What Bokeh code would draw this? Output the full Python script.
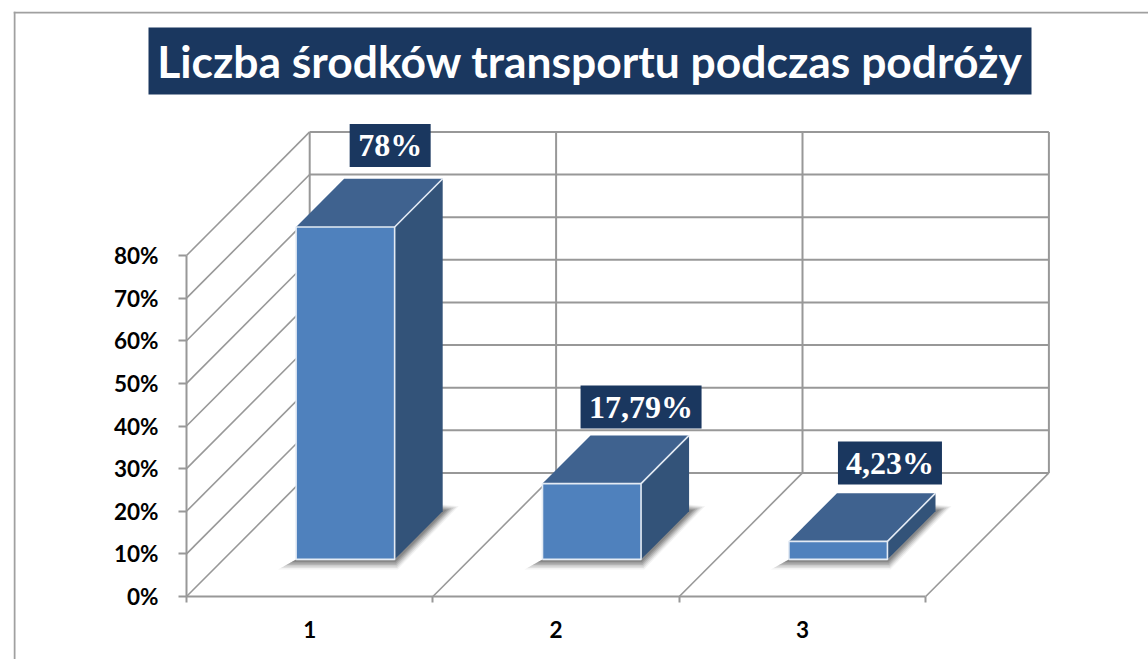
from bokeh.plotting import figure
from bokeh.models import FixedTicker, Span, Range1d
from bokeh.core.properties import value
from bokeh.embed import file_html
from bokeh.resources import INLINE

# ---- data
title_text = "Liczba środków transportu podczas podróży"
categories = [1, 2, 3]
shares = [78, 17.79, 4.23]
share_labels = ["78%", "17,79%", "4,23%"]
y_ticks = [0, 10, 20, 30, 40, 50, 60, 70, 80]
y_tick_labels = ["0%", "10%", "20%", "30%", "40%", "50%", "60%", "70%", "80%"]

# ---- style / geometry
NAVY, FRONT, TOP, SIDE = "#1a375f", "#4f81bd", "#3f628f", "#335379"
GRID, EDGE = "#989898", "#e4ebf4"
W, H, ML, MT = 1148, 659, 13, 11
PX_X, PX_Y = 246.4, 4.2625          # px per category, px per percent
ORG_X, ORG_Y = 186, 596             # page px of (0.5, 0%)
DEPTH_X, DEPTH_Y = 0.5, 29.0        # full-depth shift, in data units
BAR_HALF, BAR_D0, BAR_D1, BAR_SHIFT = 0.2, 0.30, 0.69, -1.3 / PX_X

def xd(px): return 0.5 + (px - ORG_X) / PX_X
def yd(py): return (ORG_Y - py) / PX_Y
def proj(x, v, d): return x + d * DEPTH_X, v + d * DEPTH_Y

p = figure(width=W, height=H, output_backend="svg", toolbar_location=None,
           x_range=Range1d(xd(ML), xd(W)), y_range=Range1d(yd(H), yd(MT)),
           min_border_left=ML, min_border_top=MT, min_border_right=0, min_border_bottom=0,
           outline_line_color=None, background_fill_color="white")
p.grid.visible = False

# chart-area border (left and top edges are the only ones in view)
p.add_layout(Span(location=xd(ML + 1), dimension="height", line_color="#a0a0a0", line_width=2))
p.add_layout(Span(location=yd(MT + 1), dimension="width", line_color="#a0a0a0", line_width=2))

# ---- walls
bounds = [0.5, 1.5, 2.5, 3.5]
xs, ys, dxs, dys = [], [], [], []
for v in y_ticks:
    a, b = proj(0.5, v, 1), proj(3.5, v, 1)
    xs.append([a[0], b[0]]); ys.append([a[1], b[1]])
    a, b = proj(0.5, v, 0), proj(0.5, v, 1)
    dxs.append([a[0], b[0]]); dys.append([a[1], b[1]])
for x in bounds:
    a, b = proj(x, 0, 1), proj(x, 80, 1)
    xs.append([a[0], b[0]]); ys.append([a[1], b[1]])
for x in bounds[1:]:
    a, b = proj(x, 0, 0), proj(x, 0, 1)
    dxs.append([a[0], b[0]]); dys.append([a[1], b[1]])
p.multi_line(xs, ys, line_color=GRID, line_width=2)
p.multi_line(dxs, dys, line_color=GRID, line_width=1.6)

# ---- bars
for c, v in zip(categories, shares):
    x0, x1 = c - BAR_HALF + BAR_SHIFT, c + BAR_HALF + BAR_SHIFT
    fl, fr = proj(x0, 0, BAR_D0), proj(x1, 0, BAR_D0)
    tl, tr = proj(x0, v, BAR_D0), proj(x1, v, BAR_D0)
    bl, br = proj(x0, v, BAR_D1), proj(x1, v, BAR_D1)
    br0 = proj(x1, 0, BAR_D1)
    # soft shadow on the floor
    for g, a in zip([10, 8.5, 7, 5.5, 4, 2.5], [0.06, 0.10, 0.13, 0.16, 0.18, 0.20]):
        gx, gv = g / PX_X, g / PX_Y
        sx = [fl[0] - 1.8 * gx, fr[0] + 0.3 * gx, br0[0] + 1.6 * gx, br0[0] - 0.3 * gx, fr[0], fl[0]]
        sy = [fl[1] - gv, fr[1] - gv, br0[1] + 0.5 * gv, br0[1] + 0.7 * gv, fr[1], fl[1]]
        p.patch(sx, sy, fill_color="#3a3a3a", fill_alpha=a, line_color=None)
    p.patch(*zip(fr, br0, br, tr), fill_color=SIDE, line_color=None)
    p.patch(*zip(tl, tr, br, bl), fill_color=TOP, line_color=None)
    p.patch(*zip(fl, fr, tr, tl), fill_color=FRONT, line_color=None)
    p.multi_line([[fl[0], fr[0], tr[0], tl[0], fl[0]], [tr[0], br[0]]],
                 [[fl[1], fr[1], tr[1], tl[1], fl[1]], [tr[1], br[1]]],
                 line_color=EDGE, line_width=1.6)

# ---- value labels
LAB_DX, LAB_DY, LAB_W, LAB_H = [43.5, 48, 50.5], [81.5, 76.5, 78.5], [81, 121, 104], 43
lx = [proj(c, v, BAR_D0)[0] + o / PX_X for c, v, o in zip(categories, shares, LAB_DX)]
ly = [proj(c, v, BAR_D0)[1] + o / PX_Y for c, v, o in zip(categories, shares, LAB_DY)]
p.rect(lx, ly, width=LAB_W, height=LAB_H, width_units="screen", height_units="screen",
       fill_color=NAVY, line_color=None)
p.text(lx, ly, text=share_labels, text_font=value("Liberation Serif"), text_font_style="bold",
       text_font_size="32px", text_color="white", text_align="center", text_baseline="middle")

# ---- title
p.rect([xd(589.5)], [yd(60.5)], width=883, height=67, width_units="screen", height_units="screen",
       fill_color=NAVY, line_color=None)
p.text([xd(589.5)], [yd(59.5)], text=[title_text], text_font=value("Lato"), text_font_style="bold",
       text_font_size="44.4px", text_color="white", text_align="center", text_baseline="middle")

# ---- axes
ya = p.yaxis[0]
ya.fixed_location = 0.5
ya.bounds = (0, 80)
ya.ticker = FixedTicker(ticks=y_ticks)
ya.major_label_overrides = dict(zip(y_ticks, y_tick_labels))
ya.minor_tick_line_color = None
ya.major_tick_in, ya.major_tick_out = 0, 8
ya.major_label_standoff = 20
xa = p.xaxis[0]
xa.fixed_location = 0
xa.bounds = (0.5, 3.5)
xa.ticker = FixedTicker(ticks=categories, minor_ticks=bounds)
xa.major_label_overrides = {c: str(c) for c in categories}
xa.major_tick_line_color = None
xa.major_tick_in, xa.major_tick_out = 0, 0
xa.minor_tick_in, xa.minor_tick_out = 0, 6
xa.major_label_standoff = 18
for ax in (xa, ya):
    ax.axis_line_color = GRID
    ax.axis_line_width = 2
    ax.major_label_text_font = "Lato"
    ax.major_label_text_font_style = "bold"
    ax.major_label_text_font_size = "22.5px"
    ax.major_label_text_color = "black"
ya.major_tick_line_color = GRID
ya.major_tick_line_width = 2
xa.minor_tick_line_color = GRID
xa.minor_tick_line_width = 2

open("out.html", "w").write(file_html(p, INLINE))
